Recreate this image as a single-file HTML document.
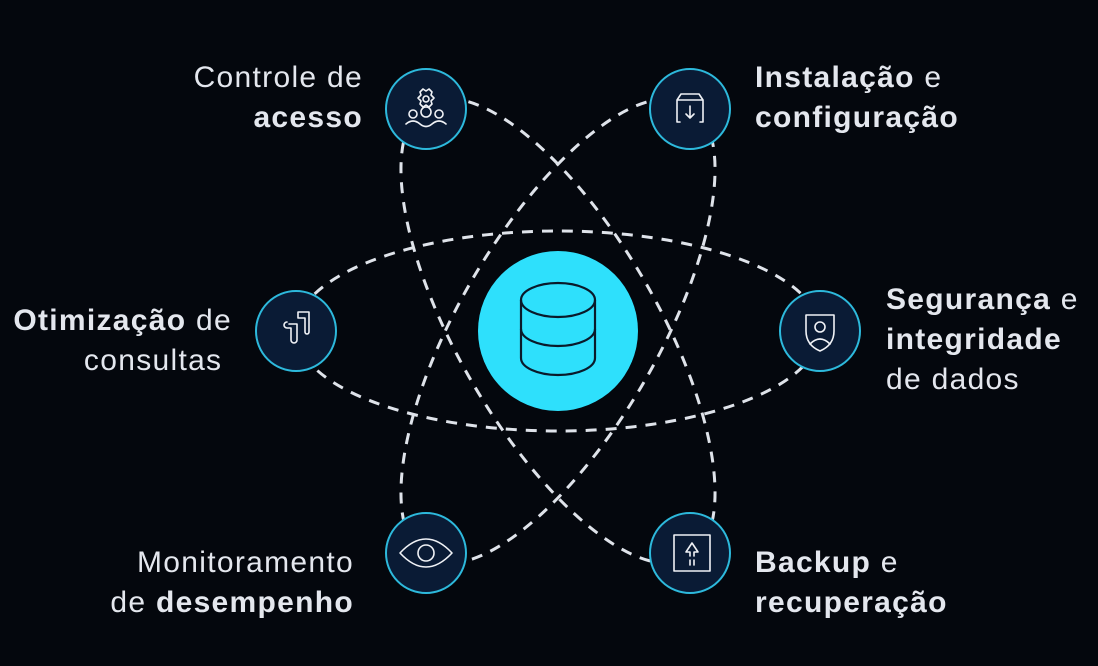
<!DOCTYPE html>
<html><head><meta charset="utf-8"><style>
html,body{margin:0;padding:0;background:#04070d;}
body{width:1098px;height:666px;position:relative;overflow:hidden;font-family:"Liberation Sans",sans-serif;color:#e4e7ee;}
.t{position:absolute;font-size:30px;line-height:40px;white-space:nowrap;letter-spacing:1.3px;}
.r{text-align:right;}
b{font-weight:700;}
</style></head><body>
<svg width="1098" height="666" style="position:absolute;left:0;top:0">
<g fill="none" stroke="#dfe3ea" stroke-width="3" stroke-dasharray="11 9">
<ellipse cx="558" cy="331" rx="262" ry="100"/>
<ellipse cx="558" cy="331" rx="262" ry="100" transform="rotate(60 558 331)"/>
<ellipse cx="558" cy="331" rx="262" ry="100" transform="rotate(-60 558 331)"/>
</g>
<circle cx="558" cy="331" r="80" fill="#2ee0fc"/>
<g fill="none" stroke="#0a1a2a" stroke-width="2.2">
<ellipse cx="558" cy="300" rx="37" ry="17"/>
<path d="M521 300 V358 A37 17 0 0 0 595 358 V300"/>
<path d="M521 329 A37 17 0 0 0 595 329"/>
</g>
<g fill="#0a1b35" stroke="#2db9dc" stroke-width="2">
<circle cx="426" cy="109" r="40"/>
<circle cx="690" cy="109" r="40"/>
<circle cx="296" cy="331" r="40"/>
<circle cx="820" cy="331" r="40"/>
<circle cx="426" cy="553" r="40"/>
<circle cx="690" cy="553" r="40"/>
</g>
<g fill="none" stroke="#f0f2f6" stroke-width="1.6" stroke-linecap="round" stroke-linejoin="round">
<circle cx="426" cy="99" r="3"/>
<path d="M420 92 l3 -3 3 2 3 -2 3 3 -1 3 3 3 -3 3 1 3 -3 3 -3 -2 -3 2 -3 -3 1 -3 -3 -3 3 -3z"/>
<circle cx="413" cy="114" r="4"/><circle cx="426" cy="112" r="5"/><circle cx="439" cy="114" r="4"/>
<path d="M406 124 q7 -6 14 0 q6 5 12 0 q7 -6 14 0"/>
<path d="M677 100 l4 -6 h18 l4 6 v22 h-3 M677 100 v22 h3 M677 100 h26 M690 106 v12 l-4 -4 M690 118 l4 -4"/>
<path d="M289 324 h8 v16 a3 3 0 0 1 -6 0 v-12 h-4 a3 3 0 0 1 0 -6 M298 318 v-6 h11 v20 a2 2 0 0 1 -4 0 v-14z"/>
<path d="M806 315 h28 v16 q0 14 -14 20 q-14 -6 -14 -20z"/>
<circle cx="820" cy="327" r="5"/>
<path d="M810 344 q10 -10 20 0"/>
<path d="M400 553 q26 -28 52 0 q-26 28 -52 0z"/>
<circle cx="426" cy="553" r="8"/>
<rect x="674" y="535" width="36" height="36"/>
<path d="M686 552 l6 -9 6 9 h-4 v4 M690 556 v-4 h-4 M690 560 v5 M694 560 v5"/>
</g>
</svg>
<div class="t r" style="right:735px;top:58px">Controle de<br><b>acesso</b></div>
<div class="t" style="left:755px;top:58px"><b>Instalação</b> e<br><b>configuração</b></div>
<div class="t r" style="right:866px;top:301px"><b>Otimização</b> de<br>consultas&nbsp;</div>
<div class="t" style="left:886px;top:280px"><b>Segurança</b> e<br><b>integridade</b><br>de dados</div>
<div class="t r" style="right:744px;top:543px">Monitoramento<br>de <b>desempenho</b></div>
<div class="t" style="left:755px;top:543px"><b>Backup</b> e<br><b>recuperação</b></div>
</body></html>
